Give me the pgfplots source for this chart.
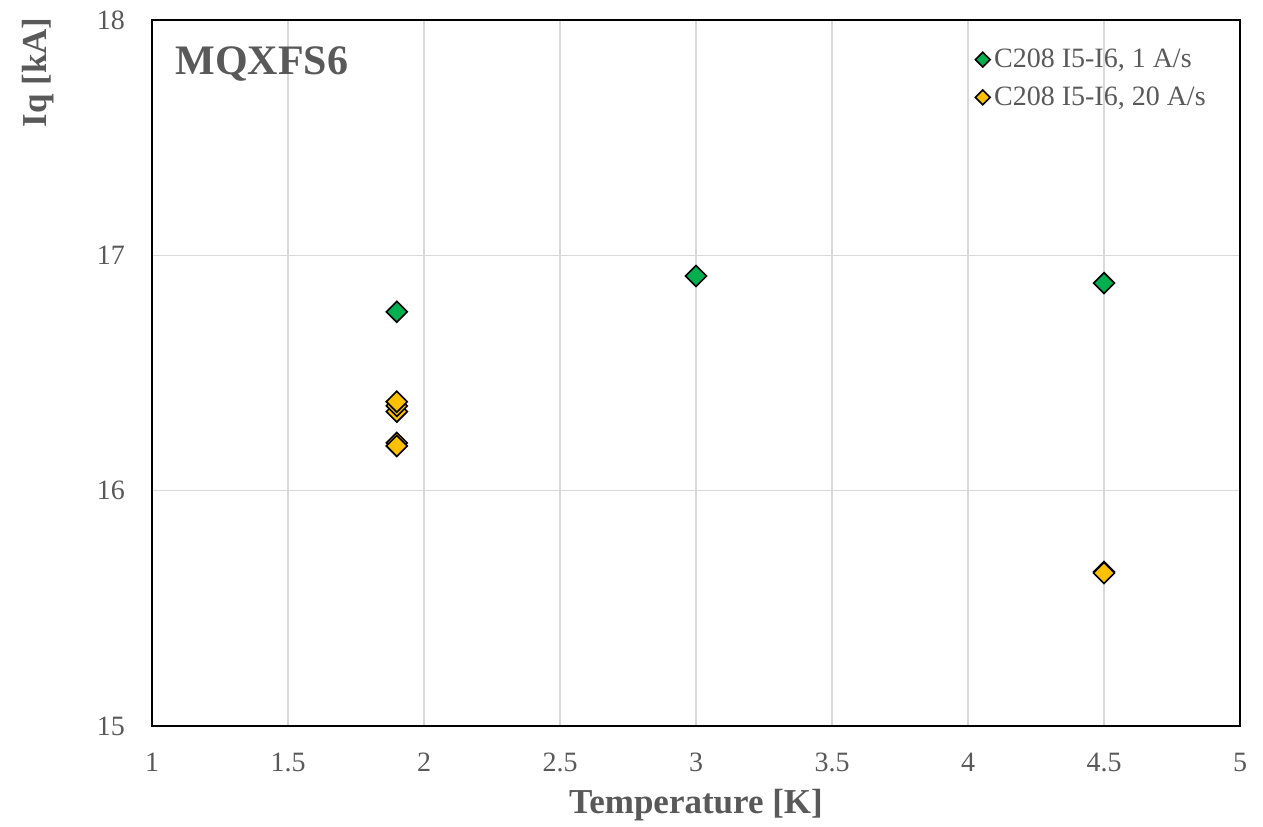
\documentclass[border=0pt]{standalone}
\usepackage{pgfplots}
\pgfplotsset{compat=1.18}
\usepackage{fontspec}
\setmainfont{Liberation Serif}
\definecolor{txtgray}{HTML}{595959}
\definecolor{gridgray}{HTML}{D9D9D9}
\definecolor{mgreen}{HTML}{00B050}
\definecolor{myellow}{HTML}{FFC000}
\begin{document}
\begin{tikzpicture}
\begin{axis}[
  name=ax,
  width=544pt, height=353pt,
  scale only axis,
  xmin=1, xmax=5, ymin=15, ymax=18,
  xtick={1,1.5,...,5}, ytick={15,16,17,18},
  xticklabels={1,1.5,2,2.5,3,3.5,4,4.5,5},
  /pgf/number format/assume math mode=true,
  grid=major,
  major grid style={gridgray, line width=0.6pt},
  major tick length=0pt,
  axis line style={black, line width=0.8pt},
  tick label style={font=\fontsize{14}{16}\selectfont, text=txtgray},
  xticklabel style={yshift=-10pt},
  yticklabel style={xshift=-10pt},
  xlabel={Temperature [K]},
  ylabel={Iq [kA]},
  x label style={at={(axis description cs:0.5,-0.112)}, anchor=center, font=\fontsize{17.5}{20}\selectfont\bfseries, text=txtgray},
  y label style={at={(axis description cs:-0.105,0.926)}, anchor=center, font=\fontsize{17.5}{20}\selectfont\bfseries, text=txtgray},
  legend style={draw=none, fill=none, at={(rel axis cs:0.978,0.971)}, anchor=north east,
    font=\fontsize{14}{16}\selectfont, text=txtgray, row sep=4pt},
  legend cell align=left,
  legend image code/.code={\draw[#1, mark size=2.6pt] (0.05cm,0cm) -- plot coordinates {(0.05cm,0cm)};},
]
% ramp rate 1 A/s
\addplot[only marks, mark=square*, mark size=3.7pt, mark options={rotate=45, fill=mgreen, draw=black, line width=0.8pt}]
  coordinates {(1.9,16.760) (3,16.912) (4.5,16.882)};
\addlegendentry{C208 I5-I6, 1 A/s}
% ramp rate 20 A/s
\addplot[only marks, mark=square*, mark size=3.7pt, mark options={rotate=45, fill=myellow, draw=black, line width=0.8pt}]
  coordinates {(1.9,16.336) (1.9,16.360) (1.9,16.378) (1.9,16.203) (1.9,16.190) (4.5,15.655) (4.5,15.650)};
\addlegendentry{C208 I5-I6, 20 A/s}
\node[anchor=west, text=txtgray, font=\fontsize{21}{24}\selectfont\bfseries] at (rel axis cs:0.015,0.938) {MQXFS6};
\end{axis}
\pgfresetboundingbox
\path ([xshift=-76pt,yshift=-50pt]ax.south west) rectangle ([xshift=11.5pt,yshift=10pt]ax.north east);
\end{tikzpicture}
\end{document}
